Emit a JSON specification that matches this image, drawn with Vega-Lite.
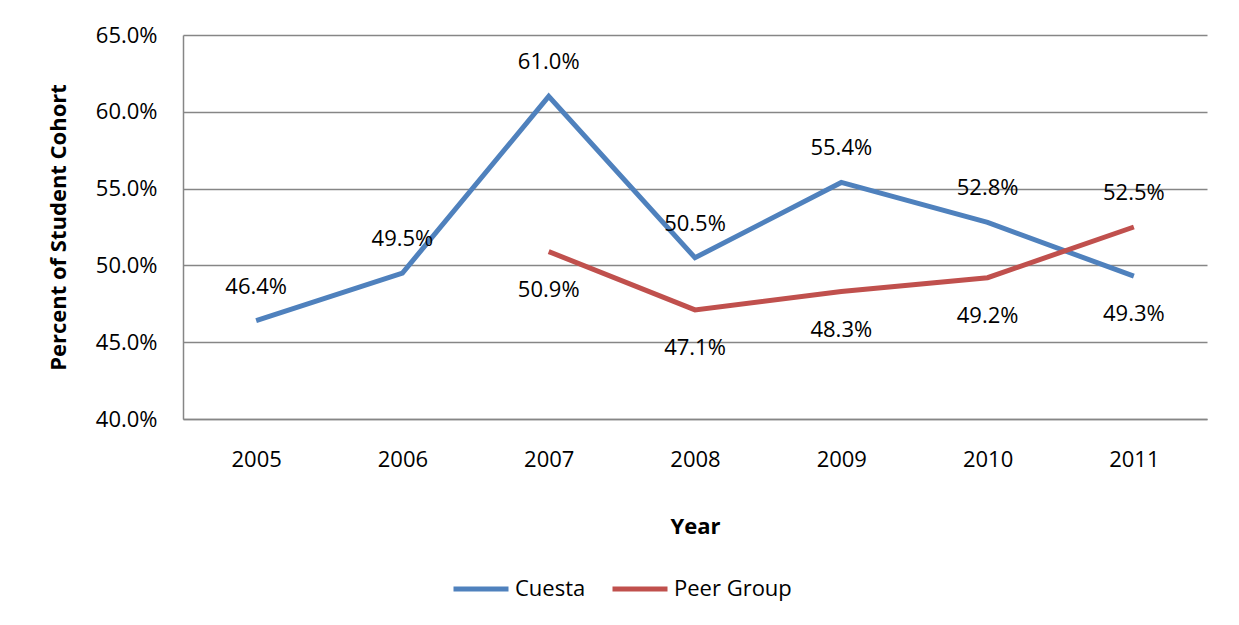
{
  "$schema": "https://vega.github.io/schema/vega-lite/v6.json",
  "width": 1024,
  "height": 384,
  "autosize": "none",
  "padding": {"left": 183, "top": 35, "right": 32, "bottom": 206},
  "background": "white",
  "config": {
    "view": {"stroke": null},
    "font": "Open Sans",
    "axis": {"labelFont": "Open Sans", "titleFont": "Open Sans", "labelColor": "black", "titleColor": "black"}
  },
  "data": {
    "values": [
      {"Year": "2005", "Series": "Cuesta", "Value": 0.464},
      {"Year": "2006", "Series": "Cuesta", "Value": 0.495},
      {"Year": "2007", "Series": "Cuesta", "Value": 0.610},
      {"Year": "2008", "Series": "Cuesta", "Value": 0.505},
      {"Year": "2009", "Series": "Cuesta", "Value": 0.554},
      {"Year": "2010", "Series": "Cuesta", "Value": 0.528},
      {"Year": "2011", "Series": "Cuesta", "Value": 0.493},
      {"Year": "2007", "Series": "Peer Group", "Value": 0.509},
      {"Year": "2008", "Series": "Peer Group", "Value": 0.471},
      {"Year": "2009", "Series": "Peer Group", "Value": 0.483},
      {"Year": "2010", "Series": "Peer Group", "Value": 0.492},
      {"Year": "2011", "Series": "Peer Group", "Value": 0.525}
    ]
  },
  "encoding": {
    "x": {
      "field": "Year", "type": "ordinal",
      "scale": {"type": "point", "padding": 0.5},
      "axis": {
        "title": "Year", "titleFontSize": 22, "titleFontWeight": "bold", "titlePadding": 46,
        "labelFontSize": 22, "labelPadding": 30, "labelAngle": 0,
        "ticks": false, "domainColor": "#868686", "domainWidth": 1.5, "grid": false
      }
    },
    "y": {
      "field": "Value", "type": "quantitative",
      "scale": {"domain": [0.4, 0.65], "nice": false, "zero": false},
      "axis": {
        "title": "Percent of Student Cohort", "titleFontSize": 22, "titleFontWeight": "bold", "titlePadding": 25,
        "format": ".1%", "values": [0.4, 0.45, 0.5, 0.55, 0.6, 0.65],
        "labelFontSize": 22, "labelPadding": 26, "ticks": false,
        "domainColor": "#868686", "domainWidth": 1.5,
        "grid": true, "gridColor": "#868686", "gridWidth": 1.5
      }
    }
  },
  "layer": [
    {
      "mark": {"type": "line", "strokeWidth": 5, "strokeJoin": "miter"},
      "encoding": {
        "color": {
          "field": "Series", "type": "nominal",
          "scale": {"domain": ["Cuesta", "Peer Group"], "range": ["#4F81BD", "#C0504D"]},
          "legend": {
            "title": null, "orient": "none", "direction": "horizontal",
            "legendX": 268, "legendY": 524,
            "symbolType": "stroke", "symbolSize": 3025, "symbolStrokeWidth": 5,
            "labelFontSize": 22, "labelFont": "Open Sans", "labelColor": "black", "labelOffset": 4,
            "columnPadding": 16
          }
        }
      }
    },
    {
      "transform": [{"filter": "(datum.Series == 'Cuesta' && datum.Year != '2011') || (datum.Series == 'Peer Group' && datum.Year == '2011')"}],
      "mark": {"type": "text", "fontSize": 22, "font": "Open Sans", "dy": -34, "color": "black"},
      "encoding": {"text": {"field": "Value", "type": "quantitative", "format": ".1%"}}
    },
    {
      "transform": [{"filter": "!((datum.Series == 'Cuesta' && datum.Year != '2011') || (datum.Series == 'Peer Group' && datum.Year == '2011'))"}],
      "mark": {"type": "text", "fontSize": 22, "font": "Open Sans", "dy": 38, "color": "black"},
      "encoding": {"text": {"field": "Value", "type": "quantitative", "format": ".1%"}}
    }
  ]
}
